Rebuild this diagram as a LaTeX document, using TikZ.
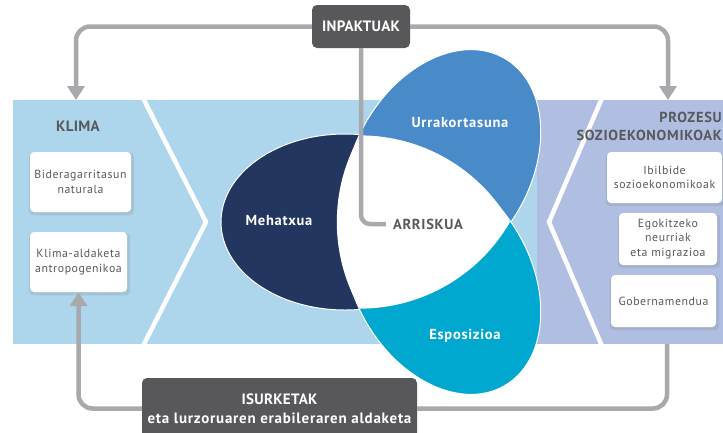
\documentclass[tikz,border=0pt]{standalone}
\usepackage{fontspec}
\setmainfont{PT Sans}[LetterSpace=5]
\newfontfamily\capsfont{PT Sans}[LetterSpace=2]
\usetikzlibrary{arrows.meta,shadows}
\definecolor{bandblue}{RGB}{173,214,236}
\definecolor{bandpurple}{RGB}{176,190,226}
\definecolor{navyc}{RGB}{35,54,96}
\definecolor{petalblue}{RGB}{73,139,201}
\definecolor{petalcyan}{RGB}{0,167,207}
\definecolor{darkbox}{RGB}{88,88,90}
\definecolor{arrowgray}{RGB}{168,169,172}
\definecolor{textgray}{RGB}{88,89,91}
\begin{document}
\begin{tikzpicture}[x=1pt,y=-1pt,
  conn/.style={draw=arrowgray, line width=4.5pt, rounded corners=14pt},
  arrowconn/.style={conn, -{Triangle[width=17pt,length=14pt]}},
  whitebox/.style={fill=white, rounded corners=4pt, inner sep=0pt, align=center,
    text=textgray, font=\fontsize{11.8}{14.5}\selectfont,
    drop shadow={opacity=0.22, shadow xshift=1pt, shadow yshift=-2pt, shadow scale=1.04}},
  darkbox/.style={fill=darkbox, rounded corners=5pt, inner sep=0pt, align=center,
    text=white, font=\bfseries\fontsize{15}{19}\selectfont},
  header/.style={text=textgray, font=\capsfont\bfseries\fontsize{15}{18}\selectfont, inner sep=0pt},
  petaltext/.style={text=white, font=\bfseries\fontsize{14.5}{17}\selectfont, inner sep=0pt},
  chevron/.style={draw=white, line width=4.5pt, line join=round},
  petal/.style={draw=white, line width=1pt}
]
\fill[white] (0,0) rectangle (723,432);
\useasboundingbox (0,0) rectangle (723,432);

% bands
\fill[bandblue] (13,100) rectangle (537,344);
\fill[bandpurple] (537,100) rectangle (740,344);
\draw[chevron] (143,98) -- (206,222) -- (143,346);
\draw[chevron] (602,98) -- (549,222) -- (602,346);

% petals
\fill[navyc, petal] (345,222) ellipse [x radius=124, y radius=88];
\fill[petalblue, petal, shift={(442.5,165.7)}, rotate=60] (0,0) ellipse [x radius=124, y radius=88];
\fill[petalcyan, petal, shift={(442.5,278.3)}, rotate=-60] (0,0) ellipse [x radius=124, y radius=88];
\fill[white] (360,135.4) arc[start angle=-90, end angle=-30, radius=173.2]
   arc[start angle=30, end angle=90, radius=173.2]
   arc[start angle=150, end angle=210, radius=173.2] -- cycle;

\node[petaltext] (meh) at (279,221) {Mehatxua};
\node[petaltext] (urr) at (460,123) {Urrakortasuna};
\node[petaltext] (esp) at (465,336) {Esposizioa};
\node[header, font=\bfseries\fontsize{14.5}{18}\selectfont] (arr) at (428,224) {ARRISKUA};

% left column
\node[header] (klima) at (78,126) {KLIMA};
\node[whitebox, minimum width=101pt, minimum height=60pt] (bid) at (80.5,182) {Bideragarritasun\\naturala};
\node[whitebox, minimum width=97pt, minimum height=60pt] (kli) at (78.5,262) {Klima-aldaketa\\antropogenikoa};

% right column
\node[header, align=right, anchor=east, font=\bfseries\fontsize{14.5}{18}\selectfont] (proz) at (722,126) {PROZESU\\SOZIOEKONOMIKOAK};
\node[whitebox, minimum width=115pt, minimum height=51pt] (ibil) at (664.5,177.5) {Ibilbide\\sozioekonomikoak};
\node[whitebox, minimum width=98pt, minimum height=52pt] (ego) at (668,239) {Egokitzeko\\neurriak\\eta migrazioa};
\node[whitebox, minimum width=105pt, minimum height=52pt] (gob) at (663.5,301) {Gobernamendua};

% top / bottom boxes
\node[darkbox, font=\capsfont\bfseries\fontsize{15}{19}\selectfont, minimum width=98pt, minimum height=43pt] (inp) at (361,26.5) {INPAKTUAK};
\node[darkbox, minimum width=275pt, minimum height=61pt] (isur) at (279.5,408.5) {{\capsfont ISURKETAK}\\eta lurzoruaren erabileraren aldaketa};

\coordinate (klimatop) at (76,100);
\coordinate (proztop) at (668,100);
\coordinate (prozbot) at (667,344);

% connectors
\draw[arrowconn] (inp.west) -| (klimatop);
\draw[arrowconn] (inp.east) -| (proztop);
\draw[conn, rounded corners=9pt] (inp.south) |- ([xshift=-7pt]arr.west);
\draw[arrowconn] (isur.west) -| (kli.south);
\draw[conn] (isur.east) -| (prozbot);
\end{tikzpicture}
\end{document}
